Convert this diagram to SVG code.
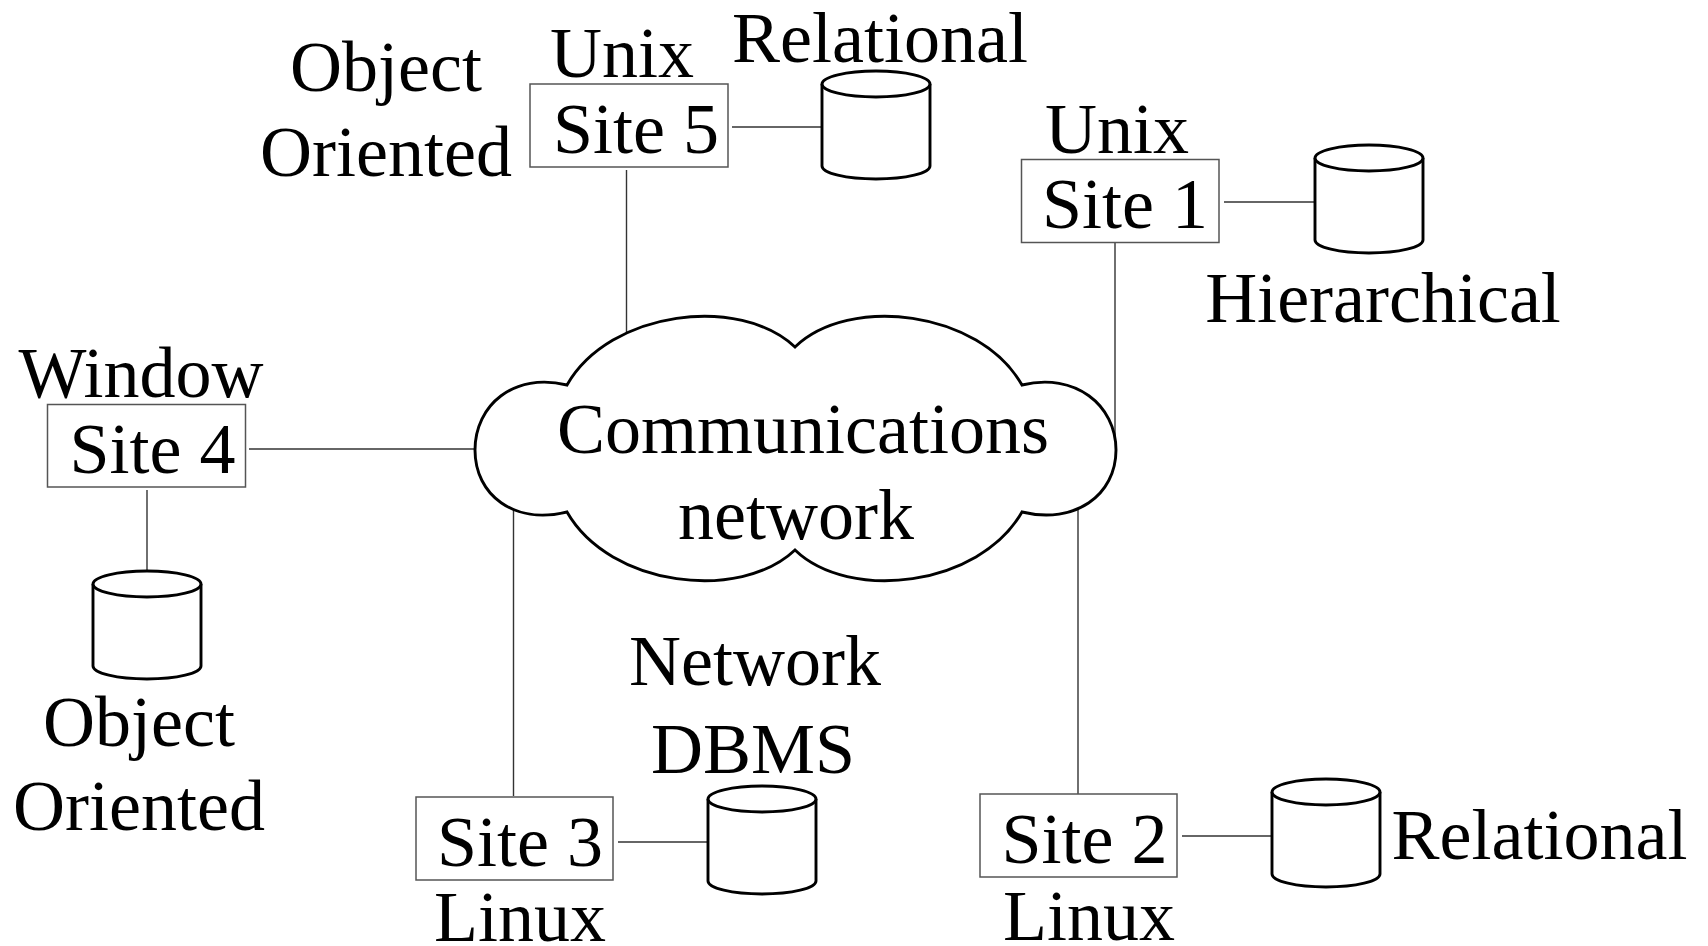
<svg xmlns="http://www.w3.org/2000/svg" xmlns:xlink="http://www.w3.org/1999/xlink" width="1708" height="946" viewBox="0 0 1708 946">
<style>
text{font-family:"Liberation Serif","Times New Roman",serif;font-size:72px;fill:#000;text-anchor:middle}
.box{fill:#fff;stroke:#555;stroke-width:1.5}
.conn line{stroke:#333;stroke-width:1.4}
.db{fill:#fff;stroke:#000;stroke-width:2.9}
.cloud{fill:#fff;stroke:#000;stroke-width:2.9}
</style>
<defs>
<g id="cyl">
<path class="db" d="M0 13 L0 95 A54 13 0 0 0 108 95 L108 13"/>
<ellipse class="db" cx="54" cy="13" rx="54" ry="13"/>
</g>
</defs>
<rect width="1708" height="946" fill="#fff"/>
<g class="conn" id="connectors">
<line x1="626.5" y1="170" x2="626.5" y2="334"/>
<line x1="732" y1="127" x2="822" y2="127"/>
<line x1="1115" y1="243" x2="1115" y2="446"/>
<line x1="1224" y1="202" x2="1315" y2="202"/>
<line x1="249" y1="449" x2="476" y2="449"/>
<line x1="147" y1="490" x2="147" y2="582"/>
<line x1="513.5" y1="503" x2="513.5" y2="796"/>
<line x1="618" y1="842" x2="710" y2="842"/>
<line x1="1078" y1="505" x2="1078" y2="794"/>
<line x1="1182" y1="836" x2="1274" y2="836"/>
</g>
<g id="cloud">
<path class="cloud" d="M567 385 C610 310 740 295 795 347 C849 295 979 310 1022 385 C1075 372 1116 405 1116 450 C1116 495 1075 525 1022 512 C979 587 849 602 795 550 C740 602 610 587 567 512 C514 525 475 495 475 450 C475 405 514 372 567 385 Z"/>
<text x="803" y="453">Communications</text>
<text x="796" y="539">network</text>
</g>
<g id="site5">
<rect class="box" x="530" y="84" width="198" height="83"/>
<text x="636" y="153">Site 5</text>
<text x="622" y="77">Unix</text>
<text x="386" y="91">Object</text>
<text x="386" y="176">Oriented</text>
</g>
<g id="db5">
<use xlink:href="#cyl" x="822" y="71"/>
<text x="880" y="62">Relational</text>
</g>
<g id="site1">
<rect class="box" x="1021.5" y="159.5" width="197.5" height="83"/>
<text x="1125" y="228">Site 1</text>
<text x="1117" y="153">Unix</text>
</g>
<g id="db1">
<use xlink:href="#cyl" x="1315" y="145"/>
<text x="1383" y="322">Hierarchical</text>
</g>
<g id="site4">
<rect class="box" x="47.5" y="404.5" width="198" height="82.5"/>
<text x="152.5" y="473">Site 4</text>
<text x="141" y="397">Window</text>
</g>
<g id="db4">
<use xlink:href="#cyl" x="93" y="571"/>
<text x="139" y="746">Object</text>
<text x="139" y="830">Oriented</text>
</g>
<g id="site3">
<rect class="box" x="416" y="797" width="197" height="83"/>
<text x="520" y="866">Site 3</text>
<text x="520" y="941">Linux</text>
</g>
<g id="db3">
<use xlink:href="#cyl" x="708" y="786"/>
<text x="755" y="685">Network</text>
<text x="753" y="773">DBMS</text>
</g>
<g id="site2">
<rect class="box" x="980" y="794" width="197" height="83"/>
<text x="1084.5" y="863">Site 2</text>
<text x="1089" y="940">Linux</text>
</g>
<g id="db2">
<use xlink:href="#cyl" x="1272" y="779"/>
<text x="1539.5" y="859">Relational</text>
</g>
</svg>
